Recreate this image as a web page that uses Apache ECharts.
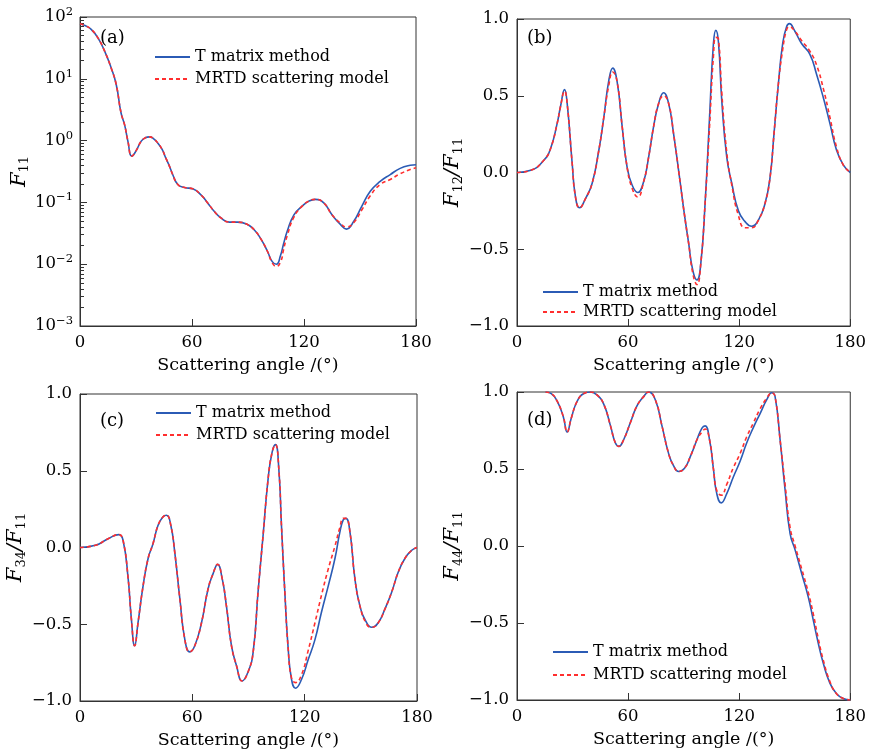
<!DOCTYPE html>
<html><head><meta charset="utf-8">
<script src="https://cdn.jsdelivr.net/npm/echarts@6/dist/echarts.min.js"></script>
<style>html,body{margin:0;padding:0;background:#fff}#c{width:869px;height:755px}</style>
</head><body><div id="c"></div>
<script>
// ---------- data ----------
const xTicks = [0, 60, 120, 180];
const seriesNames = ['T matrix method', 'MRTD scattering model'];
const panelLabels = ['(a)', '(b)', '(c)', '(d)'];
const yNames = ['F11', 'F12/F11', 'F34/F11', 'F44/F11'];

// (a) F11 (log axis)
const angA = [0,3,6,9.6,13.2,16.7,19.4,22,23.9,25.6,27.8,30,32.8,35,37.2,39.5,41.7,44,46,48,49.7,52.4,56,60.4,64.8,68.4,72,75.5,80,84.4,89.7,93.3,96.8,100.4,103,105.2,107.5,109,111,114.6,119,122.6,126,130.6,135,139.5,142.7,146.6,151,155.5,160.8,166.2,171.5,176.9,180];
const f11T = [78,72,63,46,28,15,8.1,2.8,1.8,1.0,0.56,0.68,0.98,1.11,1.15,1.07,0.91,0.72,0.52,0.38,0.28,0.195,0.174,0.166,0.132,0.098,0.071,0.056,0.048,0.048,0.044,0.036,0.026,0.0162,0.011,0.0100,0.0141,0.021,0.034,0.063,0.087,0.105,0.112,0.098,0.063,0.044,0.037,0.049,0.087,0.151,0.219,0.282,0.355,0.398,0.407];
const f11M = [78,72,63,46,28,15,8.1,2.8,1.8,1.0,0.56,0.68,0.98,1.11,1.15,1.07,0.91,0.72,0.52,0.38,0.28,0.195,0.174,0.166,0.132,0.098,0.071,0.056,0.048,0.048,0.044,0.036,0.026,0.0162,0.0105,0.0092,0.0110,0.017,0.029,0.058,0.087,0.105,0.112,0.098,0.063,0.046,0.040,0.047,0.076,0.128,0.195,0.235,0.29,0.34,0.363];

// (b) F12/F11
const angB = [0,7.4,14.5,18.1,21.7,23.5,25.7,27.1,29.8,31.6,33.8,37,40.6,44.2,46.9,49.6,51.7,54.1,56.8,59.4,62.1,65.2,68.4,71.1,73.8,76.5,79.2,81.9,84.6,88.2,90.5,92.7,95,97.2,99.3,101.6,104,106.1,107.4,108.8,110.6,113.3,116,119.6,123.2,126.8,130.4,134,136.7,138.8,141.2,143.5,145.6,147.1,150.1,153.7,158.2,161.8,165.4,169,172.6,176.2,180];
const f12T = [0,0.014,0.08,0.155,0.32,0.43,0.54,0.45,0.06,-0.16,-0.23,-0.17,-0.07,0.145,0.36,0.60,0.68,0.59,0.30,0.04,-0.08,-0.13,-0.06,0.10,0.30,0.45,0.52,0.45,0.25,-0.07,-0.28,-0.46,-0.64,-0.70,-0.59,-0.20,0.36,0.84,0.926,0.85,0.47,0.10,-0.07,-0.25,-0.32,-0.35,-0.31,-0.20,-0.03,0.25,0.58,0.84,0.95,0.97,0.92,0.84,0.77,0.64,0.49,0.32,0.145,0.05,0];
const f12M = [0,0.014,0.08,0.155,0.32,0.43,0.53,0.45,0.06,-0.16,-0.23,-0.17,-0.07,0.145,0.36,0.57,0.655,0.59,0.30,0.04,-0.10,-0.16,-0.06,0.10,0.30,0.45,0.50,0.45,0.25,-0.07,-0.28,-0.46,-0.66,-0.73,-0.59,-0.20,0.30,0.76,0.88,0.87,0.52,0.13,-0.08,-0.28,-0.36,-0.36,-0.31,-0.20,-0.03,0.25,0.58,0.80,0.93,0.95,0.92,0.86,0.79,0.70,0.55,0.36,0.165,0.05,0];

// (c) F34/F11
const angC = [0,8.2,15,20.7,23,25.7,27.4,29.2,31,33.7,36.4,39,41.7,44.4,46.2,48.5,50.6,53.3,56,58.6,61.3,64.9,68.4,71.1,73.5,75.9,78.2,80.9,83.6,86.6,89.8,92.5,95.1,97.8,100.5,102.6,104.4,106.2,107.6,109.4,111.2,113,115.1,118.3,121.9,125.5,129,132.6,136.2,138.8,140.6,142,144.2,146.8,149.5,153.1,155.8,159.3,162.9,166.5,170,173.6,177.2,180];
const f34T = [0,0.014,0.057,0.084,0.047,-0.20,-0.46,-0.64,-0.49,-0.25,-0.07,0.025,0.145,0.20,0.21,0.145,-0.03,-0.33,-0.60,-0.68,-0.64,-0.49,-0.27,-0.17,-0.11,-0.20,-0.38,-0.64,-0.77,-0.87,-0.81,-0.68,-0.29,0.08,0.45,0.62,0.67,0.51,0.145,-0.29,-0.66,-0.86,-0.917,-0.86,-0.73,-0.60,-0.42,-0.25,-0.07,0.10,0.18,0.19,0.10,-0.20,-0.38,-0.49,-0.52,-0.49,-0.40,-0.29,-0.16,-0.07,-0.018,0];
const f34M = [0,0.014,0.057,0.084,0.047,-0.20,-0.46,-0.64,-0.49,-0.25,-0.07,0.025,0.145,0.20,0.21,0.145,-0.03,-0.33,-0.60,-0.68,-0.64,-0.49,-0.27,-0.17,-0.11,-0.20,-0.38,-0.64,-0.77,-0.87,-0.81,-0.68,-0.29,0.08,0.45,0.62,0.67,0.51,0.145,-0.29,-0.66,-0.85,-0.88,-0.83,-0.67,-0.49,-0.31,-0.14,0.01,0.13,0.19,0.19,0.10,-0.20,-0.38,-0.50,-0.52,-0.49,-0.40,-0.29,-0.16,-0.07,-0.018,0];

// (d) F44/F11
const angD = [15.4,18.5,21.7,25,27.1,29.3,32.5,36.1,39.7,43.3,46.9,50.5,53.1,55,57.6,61.2,64.8,68.4,71.1,74.7,78.3,81.9,84.6,87.3,90.5,93.6,97.2,99.9,101.6,104,106.1,107.9,110.3,113.3,116.9,120.5,124.1,127.7,131.3,134.9,137.6,139.4,142.1,144.8,147.5,150.2,153.8,157.3,160,162.7,165.4,169,172.6,176.2,180];
const f44T = [1.0,0.99,0.94,0.84,0.74,0.83,0.94,0.99,1.0,0.98,0.92,0.78,0.67,0.647,0.69,0.80,0.91,0.97,1.0,0.95,0.78,0.60,0.52,0.484,0.505,0.58,0.69,0.766,0.78,0.69,0.50,0.34,0.28,0.34,0.45,0.55,0.67,0.77,0.86,0.95,0.995,0.97,0.69,0.365,0.08,-0.025,-0.18,-0.33,-0.48,-0.63,-0.76,-0.89,-0.96,-0.99,-1.0];
const f44M = [1.0,0.99,0.94,0.84,0.74,0.83,0.94,0.99,1.0,0.98,0.92,0.78,0.67,0.647,0.69,0.80,0.91,0.97,1.0,0.95,0.78,0.60,0.52,0.484,0.505,0.58,0.69,0.74,0.76,0.69,0.50,0.36,0.33,0.40,0.51,0.60,0.71,0.80,0.89,0.96,0.995,0.97,0.69,0.40,0.12,0.0,-0.15,-0.30,-0.44,-0.60,-0.74,-0.88,-0.96,-0.99,-1.0];

const linTicks = [-1, -0.5, 0, 0.5, 1];
const logTickExps = [-3, -2, -1, 0, 1, 2];

// ---------- chart ----------
const FONT = '"DejaVu Serif", "Liberation Serif", serif';
const TXT = '#000';
const AX = '#333';
const BLUE = '#2b5bb5';
const RED = '#ff2e2e';

const zip = (xs, ys) => xs.map((x, i) => [x, ys[i]]);

const grids = [
  { left: 80, top: 17, width: 336, height: 309 },
  { left: 517, top: 19, width: 334, height: 307 },
  { left: 80, top: 394, width: 337, height: 307 },
  { left: 517, top: 392, width: 334, height: 308 }
].map(g => Object.assign({ show: true, borderColor: AX, borderWidth: 1, backgroundColor: 'transparent', containLabel: false }, g));

const xAxes = grids.map((g, i) => ({
  type: 'value', gridIndex: i, min: xTicks[0], max: xTicks[xTicks.length - 1], interval: xTicks[1] - xTicks[0],
  position: 'bottom',
  name: 'Scattering angle /(°)', nameLocation: 'middle', nameGap: 30,
  nameTextStyle: { fontFamily: FONT, fontSize: 17.5, color: TXT },
  axisLine: { show: true, onZero: false, lineStyle: { color: AX, width: 1 } },
  axisTick: { show: true, inside: true, length: 7, lineStyle: { color: AX } },
  axisLabel: { fontFamily: FONT, fontSize: 16.5, color: TXT, margin: 8 },
  splitLine: { show: false }
}));

const richName = {
  i: { fontFamily: FONT, fontSize: 21, fontStyle: 'italic', color: TXT, lineHeight: 21 },
  s: { fontFamily: FONT, fontSize: 13, color: TXT, lineHeight: 13, padding: [11, 0, 0, 0] },
  n: { fontFamily: FONT, fontSize: 21, fontStyle: 'italic', color: TXT, lineHeight: 21 }
};
function nameRich(str) {
  return str.split('/').map(p => '{i|F}{s|' + p.slice(1) + '}').join('{n|/}');
}
const fmtLin = v => (v < 0 ? '\u2212' : '') + Math.abs(v).toFixed(1);

const minorLog = [];
for (let e = logTickExps[0]; e < logTickExps[logTickExps.length - 1]; e++) {
  for (let k = 2; k <= 9; k++) minorLog.push(e + Math.log10(k));
}

const yAxes = [
  {
    type: 'log', logBase: 10, gridIndex: 0, min: 0.001, max: 100, position: 'left',
    name: nameRich(yNames[0]), nameLocation: 'middle', nameGap: 42, nameRotate: 90,
    nameTextStyle: { rich: richName },
    axisLine: { show: true, onZero: false, lineStyle: { color: AX } },
    axisTick: { show: true, inside: true, length: 7, lineStyle: { color: AX } },
    axisLabel: {
      margin: 7,
      formatter: v => {
        const e = Math.round(Math.log10(v));
        return '{b|10}{p|' + (e < 0 ? '\u2212' + (-e) : e) + '}';
      },
      rich: {
        b: { fontFamily: FONT, fontSize: 16.5, color: TXT, lineHeight: 17 },
        p: { fontFamily: FONT, fontSize: 11.5, color: TXT, lineHeight: 12, padding: [0, 0, 10, 0] }
      }
    },
    splitLine: { show: false }, minorTick: { show: false }
  },
  ...[1, 2, 3].map(i => ({
    type: 'value', gridIndex: i, min: linTicks[0], max: linTicks[linTicks.length - 1], interval: linTicks[1] - linTicks[0],
    position: 'left',
    name: nameRich(yNames[i]), nameLocation: 'middle', nameGap: 51, nameRotate: 90,
    nameTextStyle: { rich: richName },
    axisLine: { show: true, onZero: false, lineStyle: { color: AX } },
    axisTick: { show: true, inside: true, length: 7, lineStyle: { color: AX } },
    axisLabel: { fontFamily: FONT, fontSize: 16.5, color: TXT, margin: 8, formatter: fmtLin },
    splitLine: { show: false }
  })),
  {
    // minor (2..9) ticks of the log axis in panel (a), on a log10-exponent scale
    type: 'value', gridIndex: 0, min: logTickExps[0], max: logTickExps[logTickExps.length - 1], position: 'left', offset: 0,
    axisLine: { show: true, onZero: false, lineStyle: { color: AX, opacity: 0 } },
    axisLabel: { show: false }, splitLine: { show: false },
    axisTick: { show: true, inside: true, length: 4, customValues: minorLog, lineStyle: { color: AX, width: 1 } }
  }
];

const panels = [
  [angA, f11T, f11M], [angB, f12T, f12M], [angC, f34T, f34M], [angD, f44T, f44M]
];
const series = [];
panels.forEach(([ang, t, m], i) => {
  series.push({
    name: seriesNames[0], type: 'line', xAxisIndex: i, yAxisIndex: i,
    data: zip(ang, t), symbol: 'none', smooth: 0.5,
    lineStyle: { color: BLUE, width: 1.6 }, itemStyle: { color: BLUE }, z: 2
  });
  series.push({
    name: seriesNames[1], type: 'line', xAxisIndex: i, yAxisIndex: i,
    data: zip(ang, m), symbol: 'none', smooth: 0.5,
    lineStyle: { color: RED, width: 1.6, type: [4, 3] }, itemStyle: { color: RED }, z: 3
  });
});

const legendPos = [
  { left: 154, top: 48, itemGap: 4 },
  { left: 542, top: 283, itemGap: 2 },
  { left: 155, top: 404, itemGap: 4 },
  { left: 552, top: 643, itemGap: 5 }
];
const legends = legendPos.map(p => Object.assign({
  orient: 'vertical', padding: 0, itemWidth: 35, itemHeight: 18,
  data: seriesNames, selectedMode: false,
  itemStyle: { opacity: 0 },
  textStyle: { fontFamily: FONT, fontSize: 16, color: TXT, lineHeight: 18 }
}, p));

const labelPos = [[100, 29], [527, 29], [100, 412], [527, 411]];
const graphic = labelPos.map((p, i) => ({
  type: 'text', left: p[0], top: p[1], z: 10,
  style: { text: panelLabels[i], font: '18px "DejaVu Serif"', fill: TXT }
}));

const chart = echarts.init(document.getElementById('c'), null, { renderer: 'canvas' });
chart.setOption({
  animation: false,
  backgroundColor: '#fff',
  grid: grids, xAxis: xAxes, yAxis: yAxes, series, legend: legends, graphic
});
</script>
</body></html>
